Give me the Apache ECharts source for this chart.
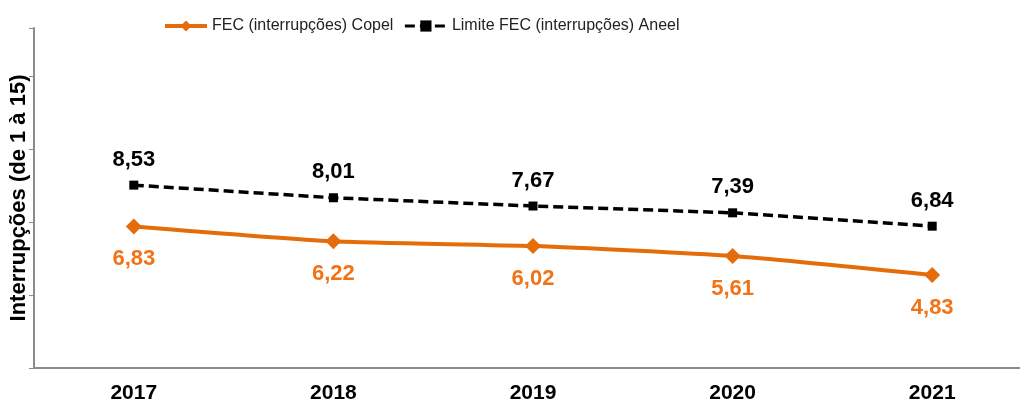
<!DOCTYPE html>
<html>
<head>
<meta charset="utf-8">
<script src="https://cdn.jsdelivr.net/npm/echarts@6/dist/echarts.min.js"></script>
<style>
  html, body { margin: 0; padding: 0; background: #fff; }
  #main { width: 1020px; height: 403px; }
</style>
</head>
<body>
<div id="main"></div>
<script>
// dados do gráfico
const anos = ['2017', '2018', '2019', '2020', '2021']
const fecCopel = [6.83, 6.22, 6.02, 5.61, 4.83]
const fecAneel = [8.53, 8.01, 7.67, 7.39, 6.84]
const nomeCopel = 'FEC (interrupções) Copel'
const nomeAneel = 'Limite FEC (interrupções) Aneel'

// 6.83 -> "6,83"
const fmt = p => p.value.toFixed(2).replace('.', ',')

const chart = echarts.init(document.getElementById('main'))
chart.setOption({
  animation: false,
  textStyle: { fontFamily: 'Liberation Sans, Arial, sans-serif' },
  legend: {
    top: 13,
    left: 158,
    itemWidth: 42,
    itemHeight: 14,
    itemGap: 10,
    textStyle: { fontSize: 16, color: '#222' },
    data: [
      { name: nomeCopel, lineStyle: { width: 4 } },
      { name: nomeAneel, lineStyle: { width: 3 } }
    ]
  },
  // a área do gráfico passa um pouco da borda direita, como no original
  grid: { left: 34, top: 28, width: 998, height: 340, outerBoundsMode: 'none' },
  xAxis: {
    type: 'category',
    data: anos,
    axisLine: { lineStyle: { color: '#8c8c8c', width: 2 } },
    axisTick: { show: false },
    axisLabel: { fontSize: 21, fontWeight: 'bold', color: '#000', margin: 15 }
  },
  yAxis: {
    type: 'value',
    min: 1,
    max: 15,
    interval: 3,
    name: 'Interrupções (de 1 à 15)',
    nameLocation: 'middle',
    nameGap: 4,
    nameTextStyle: { fontSize: 22, fontWeight: 'bold', color: '#000' },
    axisLine: { show: true, lineStyle: { color: '#8c8c8c', width: 2 } },
    axisTick: { show: true, length: 5, lineStyle: { color: '#8c8c8c' } },
    axisLabel: { show: false },
    splitLine: { show: false }
  },
  series: [
    {
      name: nomeCopel,
      type: 'line',
      data: fecCopel,
      smooth: 0.2,
      symbol: 'diamond',
      symbolSize: 16,
      itemStyle: { color: '#e46c0a' },
      lineStyle: { color: '#e46c0a', width: 4 },
      label: {
        show: true,
        position: 'bottom',
        distance: 14,
        formatter: fmt,
        fontSize: 22,
        fontWeight: 'bold',
        color: '#f47216'
      }
    },
    {
      name: nomeAneel,
      type: 'line',
      data: fecAneel,
      symbol: 'rect',
      symbolSize: 9,
      itemStyle: { color: '#000' },
      lineStyle: { color: '#000', width: 3.5, type: [10, 5] },
      label: {
        show: true,
        position: 'top',
        distance: 10,
        formatter: fmt,
        fontSize: 22,
        fontWeight: 'bold',
        color: '#000'
      }
    }
  ]
})
</script>
</body>
</html>
